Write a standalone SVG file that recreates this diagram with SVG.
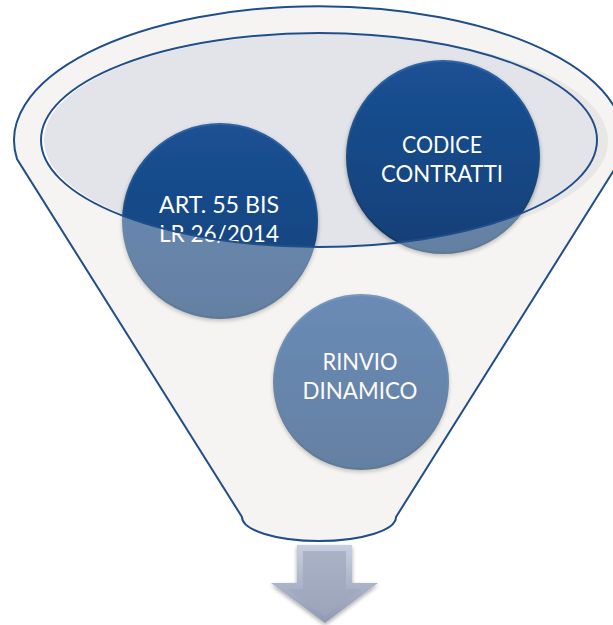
<svg xmlns="http://www.w3.org/2000/svg" width="613" height="625" viewBox="0 0 613 625">
<defs>
<style>
.edge{fill:none;stroke:#1f4e8a;stroke-width:2}
.lbl{font-family:Lato,"Open Sans","Liberation Sans",sans-serif;font-size:22.5px;fill:#ffffff;text-anchor:middle}
.ball{fill:url(#ballG);stroke:url(#rimG);stroke-width:2;filter:url(#sh)}
</style>
<linearGradient id="ballG" x1="0" y1="0" x2="0" y2="1">
<stop offset="0" stop-color="#1b5194"/>
<stop offset="1" stop-color="#113f77"/>
</linearGradient>
<linearGradient id="rimG" x1="0" y1="0" x2="0" y2="1">
<stop offset="0" stop-color="#2d64a6"/>
<stop offset="1" stop-color="#0c335f"/>
</linearGradient>
<linearGradient id="arrG" x1="0" y1="0" x2="0" y2="1">
<stop offset="0" stop-color="#c8cfdf"/>
<stop offset="1" stop-color="#8f99b2"/>
</linearGradient>
<linearGradient id="arrIn" x1="0" y1="0" x2="0" y2="1">
<stop offset="0" stop-color="#aab2c6"/>
<stop offset="1" stop-color="#9ba4ba"/>
</linearGradient>
<filter id="sh" x="-10%" y="-10%" width="120%" height="125%">
<feGaussianBlur in="SourceAlpha" stdDeviation="2"/>
<feOffset dx="0" dy="2" result="b"/>
<feComponentTransfer><feFuncA type="linear" slope="0.35"/></feComponentTransfer>
<feMerge><feMergeNode/><feMergeNode in="SourceGraphic"/></feMerge>
</filter>
</defs>
<rect width="613" height="625" fill="#ffffff"/>
<g id="funnel">
<path d="M17,159 A305,134 0 1 1 621,159 L396,517 A77,24 0 0 1 242,517 Z" fill="#f6f5f2"/>
<ellipse cx="328" cy="141" rx="280" ry="107" fill="#e0e0e0"/>
<ellipse cx="319" cy="140" rx="278" ry="107" fill="#ffffff"/>
<ellipse cx="320" cy="140" rx="276" ry="106" fill="#e3e4e9"/>
</g>
<g id="node-art55">
<circle class="ball" cx="220" cy="221" r="97"/>
<text class="lbl" x="219" y="213" textLength="120" lengthAdjust="spacingAndGlyphs">ART. 55 BIS</text>
<text class="lbl" x="219" y="242" textLength="120" lengthAdjust="spacingAndGlyphs">LR 26/2014</text>
</g>
<g id="node-codice">
<circle class="ball" cx="443" cy="157" r="96"/>
<text class="lbl" x="442" y="153" textLength="80" lengthAdjust="spacingAndGlyphs">CODICE</text>
<text class="lbl" x="442" y="182" textLength="122" lengthAdjust="spacingAndGlyphs">CONTRATTI</text>
</g>
<g id="node-rinvio">
<circle class="ball" cx="361" cy="382" r="87"/>
<text class="lbl" x="360" y="370" textLength="75" lengthAdjust="spacingAndGlyphs">RINVIO</text>
<text class="lbl" x="360" y="399" textLength="115" lengthAdjust="spacingAndGlyphs">DINAMICO</text>
</g>
<g id="funnel-front">
<path d="M17,159 A305,134 0 1 1 621,159 L396,517 A77,24 0 0 1 242,517 Z M41,140 A278,107 0 1 0 597,140 A278,107 0 1 0 41,140 Z" fill="#f6f5f2" fill-opacity="0.36" fill-rule="evenodd"/>
<path class="edge" d="M17,159 A305,134 0 1 1 621,159 L396,517 A77,24 0 0 1 242,517 Z"/>
<ellipse class="edge" cx="319" cy="140" rx="278" ry="107"/>
</g>
<g id="connectors">
<g id="arrow" filter="url(#sh)">
<path d="M297,545 L352,545 L352,583 L378,583 L325,623 L271,583 L297,583 Z" fill="url(#arrG)"/>
<path d="M303,551 L346,551 L346,589 L362,589 L325,616 L288,589 L303,589 Z" fill="url(#arrIn)"/>
</g>
</g>
</svg>
